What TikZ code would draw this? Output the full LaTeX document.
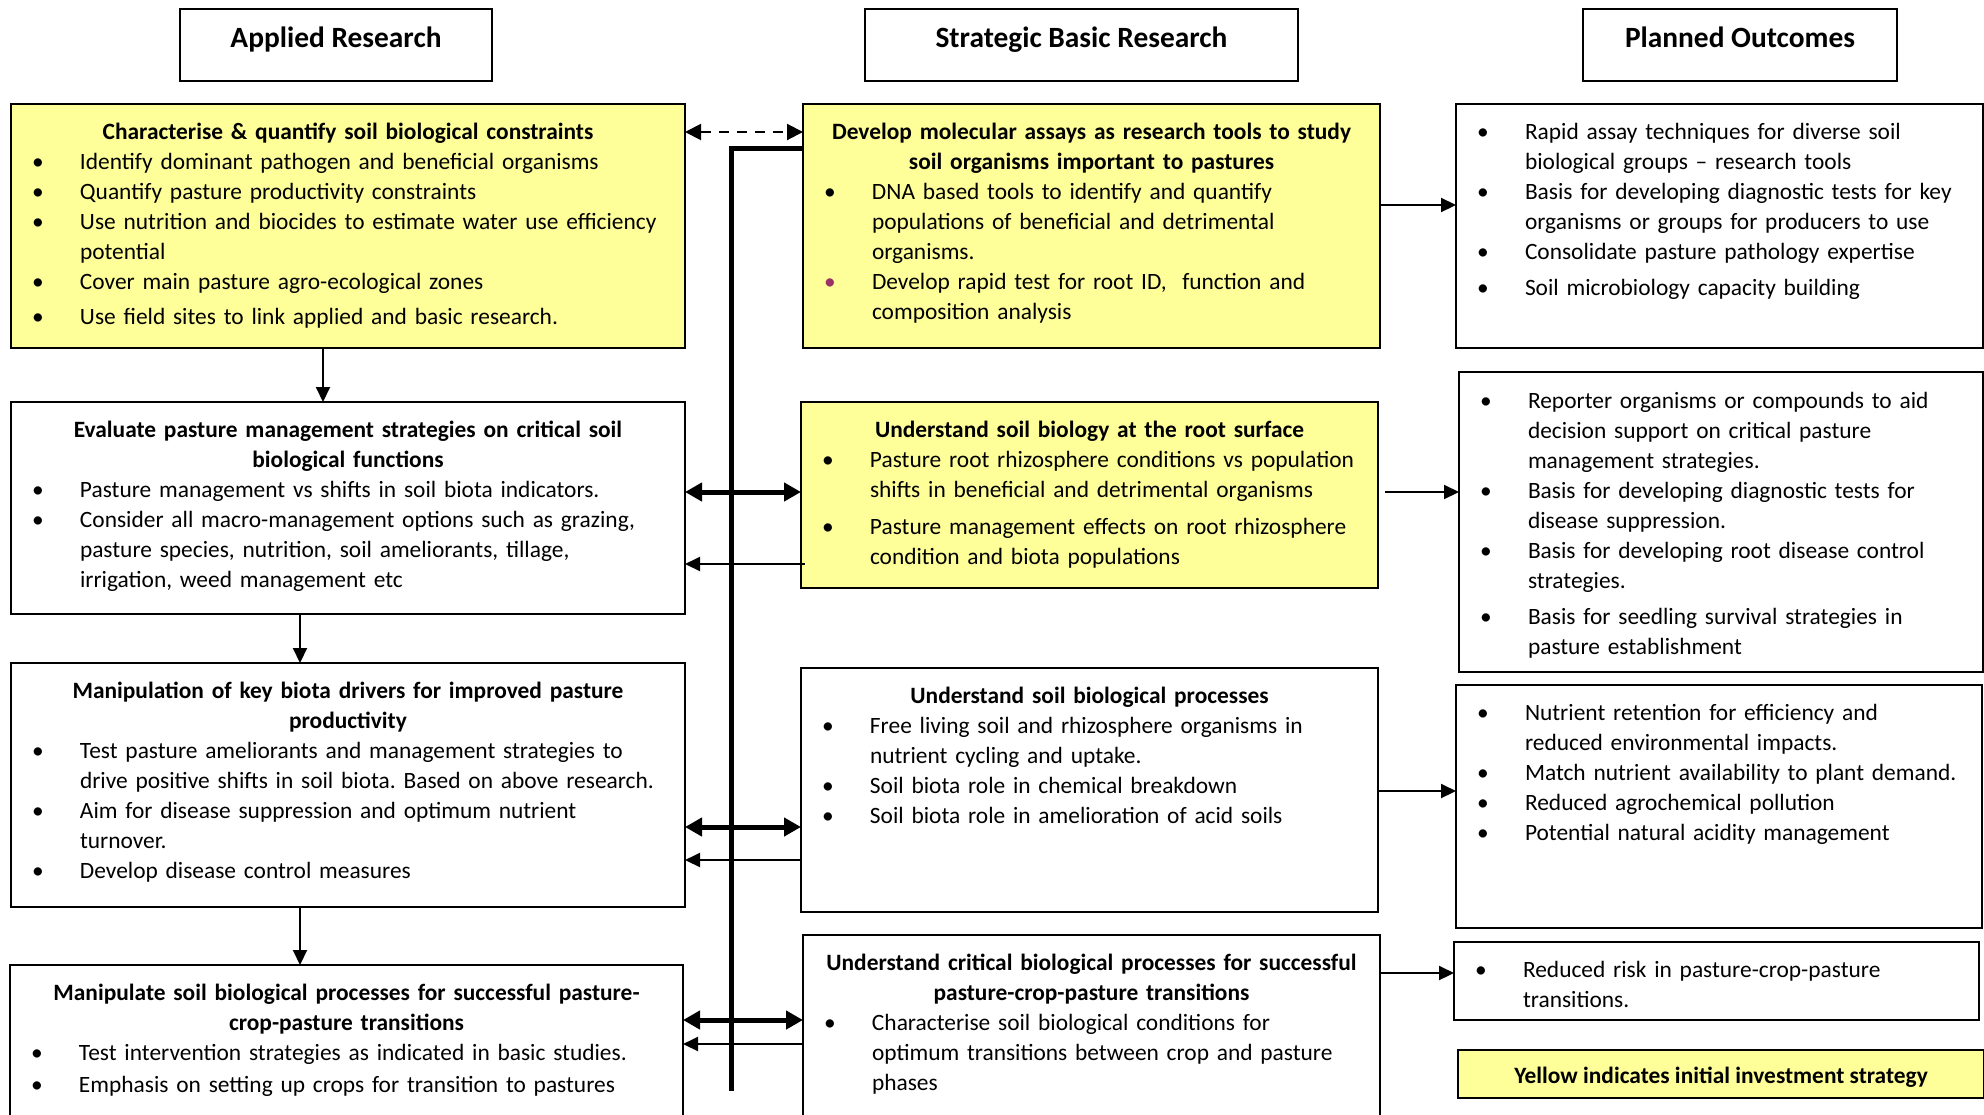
\documentclass[tikz,border=0pt]{standalone}
\usepackage{fontspec}
\setmainfont{Carlito}
\usetikzlibrary{arrows.meta}
\definecolor{yel}{RGB}{255,255,153}
\definecolor{purp}{RGB}{153,51,102}
\frenchspacing
\newcommand\bl[1]{\hangindent=23.5pt\hangafter=1\noindent\makebox[23.5pt][l]{\makebox[5pt]{\textbullet}}#1\par}
\newcommand\blp[1]{\hangindent=23.5pt\hangafter=1\noindent\makebox[23.5pt][l]{\makebox[5pt]{\color{purp}\textbullet}}#1\par}
\newcommand\ttl[1]{{\noindent\bfseries\leftskip=-15pt plus 1fil\rightskip=15pt plus 1fil\parfillskip=0pt #1\par}}
\begin{document}
\begin{tikzpicture}[x=0.5pt,y=-0.5pt,
  font=\fontsize{11.7}{15}\selectfont,
  box/.style={draw, line width=1pt, anchor=north west, inner sep=0pt, outer sep=0pt},
  ybox/.style={box, fill=yel},
  hdr/.style={box, font=\fontsize{14.7}{17}\selectfont\bfseries},
  body/.style={anchor=north west, inner sep=0pt, outer sep=0pt, align=left,
    execute at begin node={\hyphenpenalty=10000\exhyphenpenalty=10000\frenchspacing}},
  thinarr/.style={line width=1pt, -{Triangle[length=7.5pt,width=7pt]}},
  dasharr/.style={line width=1pt, dash pattern=on 5pt off 4pt, {Triangle[length=8pt,width=8pt]}-{Triangle[length=8pt,width=8pt]}},
  thickarr/.style={line width=2.5pt, {Triangle[length=8.5pt,width=9pt]}-{Triangle[length=8.5pt,width=9pt]}},
  bus/.style={line width=2.5pt}
]
\useasboundingbox (0,0) rectangle (1984,1114);
\clip (0,0) rectangle (1984,1114);

% headers
\node[hdr, minimum width=156pt, minimum height=36pt] (h1) at (180,9) {\raisebox{-1pt}[0pt][0pt]{Applied Research}};
\node[hdr, minimum width=216.5pt, minimum height=36pt] (h2) at (865,9) {\raisebox{-1pt}[0pt][0pt]{Strategic Basic Research}};
\node[hdr, minimum width=157pt, minimum height=36pt] (h3) at (1583,9) {\raisebox{-1pt}[0pt][0pt]{Planned Outcomes}};

% left column
\node[ybox, minimum width=337pt, minimum height=122pt] (L1) at (11,104) {};
\node[body, text width=345pt] (L1t) at ([shift={(11pt,-9.5pt)}]L1.north west) {%
\ttl{Characterise \& quantify soil biological constraints}
\bl{Identify dominant pathogen and beneficial organisms}
\bl{Quantify pasture productivity constraints}
\bl{Use nutrition and biocides to estimate water use efficiency\newline potential}
\bl{Cover main pasture agro-ecological zones}
\vspace{2.5pt}\bl{Use field sites to link applied and basic research.}};

\node[box, minimum width=337pt, minimum height=106pt] (L2) at (11,402) {};
\node[body, text width=345pt] (L2t) at ([shift={(11pt,-9.5pt)}]L2.north west) {%
\ttl{Evaluate pasture management strategies on critical soil\\biological functions}
\bl{Pasture management vs shifts in soil biota indicators.}
\bl{Consider all macro-management options such as grazing,\newline pasture species, nutrition, soil ameliorants, tillage,\newline irrigation, weed management etc}};

\node[box, minimum width=337pt, minimum height=122pt] (L3) at (11,663) {};
\node[body, text width=345pt] (L3t) at ([shift={(11pt,-9.5pt)}]L3.north west) {%
\ttl{Manipulation of key biota drivers for improved pasture\\productivity}
\bl{Test pasture ameliorants and management strategies to\newline drive positive shifts in soil biota. Based on above research.}
\bl{Aim for disease suppression and optimum nutrient\newline turnover.}
\bl{Develop disease control measures}};

\node[box, minimum width=336.5pt, minimum height=100pt] (L4) at (10,965) {};
\node[body, text width=344.5pt] (L4t) at ([shift={(11pt,-9.5pt)}]L4.north west) {%
\ttl{Manipulate soil biological processes for successful pasture-\\crop-pasture transitions}
\bl{Test intervention strategies as indicated in basic studies.}
\vspace{1pt}\bl{Emphasis on setting up crops for transition to pastures}};

% middle column
\node[ybox, minimum width=288.5pt, minimum height=122pt] (M1) at (803,104) {};
\node[body, text width=296.5pt] (M1t) at ([shift={(11pt,-9.5pt)}]M1.north west) {%
\ttl{Develop molecular assays as research tools to study\\soil organisms important to pastures}
\bl{DNA based tools to identify and quantify\newline populations of beneficial and detrimental\newline organisms.}
\blp{Develop rapid test for root ID,\ \ function and\newline composition analysis}};

\node[ybox, minimum width=288.5pt, minimum height=93pt] (M2) at (801,402) {};
\node[body, text width=296.5pt] (M2t) at ([shift={(11pt,-9.5pt)}]M2.north west) {%
\ttl{Understand soil biology at the root surface}
\bl{Pasture root rhizosphere conditions vs population\newline shifts in beneficial and detrimental organisms}
\vspace{3.5pt}\bl{Pasture management effects on root rhizosphere\newline condition and biota populations}};

\node[box, minimum width=288.5pt, minimum height=122pt] (M3) at (801,668) {};
\node[body, text width=296.5pt] (M3t) at ([shift={(11pt,-9.5pt)}]M3.north west) {%
\ttl{Understand soil biological processes}
\bl{Free living soil and rhizosphere organisms in\newline nutrient cycling and uptake.}
\bl{Soil biota role in chemical breakdown}
\bl{Soil biota role in amelioration of acid soils}};

\node[box, minimum width=288.5pt, minimum height=100pt] (M4) at (803,935) {};
\node[body, text width=296.5pt] (M4t) at ([shift={(11pt,-9.5pt)}]M4.north west) {%
\ttl{Understand critical biological processes for successful\\pasture-crop-pasture transitions}
\bl{Characterise soil biological conditions for\newline optimum transitions between crop and pasture\newline phases}};

% right column
\node[box, minimum width=263.5pt, minimum height=122pt] (R1) at (1456,104) {};
\node[body, text width=260pt] (R1t) at ([shift={(11pt,-9.5pt)}]R1.north west) {%
\bl{Rapid assay techniques for diverse soil\newline biological groups -- research tools}
\bl{Basis for developing diagnostic tests for key\newline organisms or groups for producers to use}
\bl{Consolidate pasture pathology expertise}
\vspace{3pt}\bl{Soil microbiology capacity building}};

\node[box, minimum width=262pt, minimum height=150pt] (R2) at (1459,372) {};
\node[body, text width=260pt] (R2t) at ([shift={(11pt,-10pt)}]R2.north west) {%
\bl{Reporter organisms or compounds to aid\newline decision support on critical pasture\newline management strategies.}
\bl{Basis for developing diagnostic tests for\newline disease suppression.}
\bl{Basis for developing root disease control\newline strategies.}
\vspace{3pt}\bl{Basis for seedling survival strategies in\newline pasture establishment}};

\node[box, minimum width=263pt, minimum height=121.5pt] (R3) at (1456,685) {};
\node[body, text width=260pt] (R3t) at ([shift={(11pt,-9.5pt)}]R3.north west) {%
\bl{Nutrient retention for efficiency and\newline reduced environmental impacts.}
\bl{Match nutrient availability to plant demand.}
\bl{Reduced agrochemical pollution}
\bl{Potential natural acidity management}};

\node[box, minimum width=262.5pt, minimum height=39pt] (R4) at (1454,942) {};
\node[body, text width=260pt] (R4t) at ([shift={(11pt,-9.5pt)}]R4.north west) {%
\bl{Reduced risk in pasture-crop-pasture\newline transitions.}};

\node[ybox, minimum width=263pt, minimum height=24pt, font=\fontsize{11.7}{15}\selectfont\bfseries] (leg) at (1458,1050) {\raisebox{-4.5pt}[0pt][0pt]{Yellow indicates initial investment strategy}};

% level coordinates
\coordinate (ya) at (0,132);
\coordinate (vt) at (731,148);
\coordinate (vb) at (731,1091);
\coordinate (yk1) at (0,492);
\coordinate (yk2) at (0,827);
\coordinate (yk3) at (0,1020);
\coordinate (yt1) at (0,564);
\coordinate (yt2) at (0,860);
\coordinate (yt3) at (0,1044);
\coordinate (yr1) at (0,205);
\coordinate (yr2) at (0,492);
\coordinate (yr3) at (0,791);
\coordinate (yr4) at (0,973);
\coordinate (xd1) at (323,0);
\coordinate (xd2) at (300,0);

% connectors
\draw[dasharr] (L1.east |- ya) -- (M1.west |- ya);
\draw[bus] (M1.west |- vt) -- (vt) -- (vb);
\draw[thickarr] (L2.east |- yk1) -- (M2.west |- yk1);
\draw[thickarr] (L3.east |- yk2) -- (M3.west |- yk2);
\draw[thickarr] (L4.east |- yk3) -- (M4.west |- yk3);
\draw[thinarr] ([xshift=2pt]M2.west |- yt1) -- (L2.east |- yt1);
\draw[thinarr] (M3.west |- yt2) -- (L3.east |- yt2);
\draw[thinarr] (M4.west |- yt3) -- (L4.east |- yt3);
\draw[thinarr] (L1.south -| xd1) -- (L2.north -| xd1);
\draw[thinarr] (L2.south -| xd2) -- (L3.north -| xd2);
\draw[thinarr] (L3.south -| xd2) -- (L4.north -| xd2);
\draw[thinarr] (M1.east |- yr1) -- (R1.west |- yr1);
\draw[thinarr, shorten <=3.5pt] (M2.east |- yr2) -- (R2.west |- yr2);
\draw[thinarr] (M3.east |- yr3) -- (R3.west |- yr3);
\draw[thinarr] (M4.east |- yr4) -- (R4.west |- yr4);
\end{tikzpicture}
\end{document}
